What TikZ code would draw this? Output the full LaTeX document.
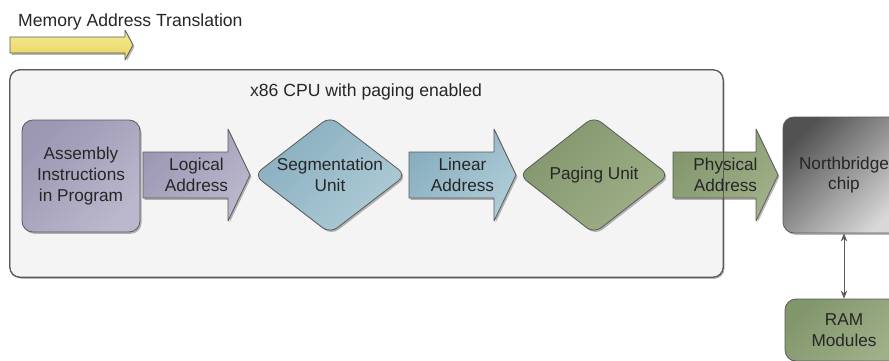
\documentclass[tikz,border=0pt]{standalone}
\usepackage{fontspec}
\setmainfont{Liberation Sans}
\usetikzlibrary{shapes.geometric,shadows,arrows.meta}

\definecolor{edgegray}{HTML}{5A5A5A}
\definecolor{textgray}{HTML}{262626}
\definecolor{cpufill}{HTML}{F4F4F4}
\definecolor{purpledark}{HTML}{9C97B3}
\definecolor{purplelight}{HTML}{BBB7CC}
\definecolor{bluedark}{HTML}{88AEBF}
\definecolor{bluelight}{HTML}{AFCCD7}
\definecolor{greendark}{HTML}{82966C}
\definecolor{greenlight}{HTML}{A0B089}
\definecolor{graydark}{HTML}{525252}
\definecolor{graylight}{HTML}{D8D8D8}
\definecolor{yellowlight}{HTML}{F7EC98}
\definecolor{yellowdark}{HTML}{E6D35C}
\newcommand{\boxfont}{\fontsize{17.2}{20.6}\selectfont}

\tikzset{
	lbl/.style={text=textgray,align=center,font=\boxfont,inner sep=0pt},
	soft shadow/.style={drop shadow={shadow xshift=1.5pt,shadow yshift=-1.8pt,opacity=0.28,fill=black}},
	box/.style={draw=edgegray,line width=0.8pt,rounded corners=11pt,soft shadow,
		text=textgray,align=center,font=\boxfont},
	diamondbox/.style={shape=diamond,draw=edgegray,line width=0.8pt,rounded corners=9pt,
		inner sep=0pt,soft shadow},
	fatarrow/.style={draw=edgegray,line width=0.8pt,line join=round,soft shadow},
	purplefill/.style={top color=purpledark,bottom color=purplelight,shading angle=45},
	bluefill/.style={top color=bluedark,bottom color=bluelight,shading angle=45},
	greenfill/.style={top color=greendark,bottom color=greenlight,shading angle=45},
	grayfill/.style={top color=graydark,bottom color=graylight,shading angle=45},
	yellowfill/.style={top color=yellowlight,bottom color=yellowdark},
	cpubox/.style={draw=edgegray,line width=0.8pt,fill=cpufill,rounded corners=10pt,soft shadow},
	link/.style={draw=edgegray,line width=0.8pt,{Stealth[length=8pt,width=6.5pt]}-{Stealth[length=8pt,width=6.5pt]}}
}

% #1: fill style, #2: x of tail, #3: x of tip, #4: node name, #5: label
\newcommand{\addrarrow}[5]{%
	\draw[#1,fatarrow] (#2,152) -- (#3-22,152) -- (#3-22,129) -- (#3,175)
		-- (#3-22,221) -- (#3-22,198) -- (#2,198) -- cycle;
	\node[lbl] (#4) at ({(#2+#3)/2},175) {#5};
}

\begin{document}
\begin{tikzpicture}[x=1pt,y=-1pt]
	\useasboundingbox (0,0) rectangle (889,360);
	
	% Title and legend arrow
	\node[lbl,font=\fontsize{17.6}{21}\selectfont,anchor=base west] (title) at (18,26) {Memory Address Translation};
	\draw[yellowfill,fatarrow] (10,37) -- (125,37) -- (125,30) -- (133,45)
		-- (125,60) -- (125,53) -- (10,53) -- cycle;
	
	% CPU
	\node[cpubox,minimum width=713pt,minimum height=207pt] (cpu) at (366.5,173.5) {};
	\node[lbl,font=\fontsize{17.6}{21}\selectfont,anchor=base] (cpulabel) at (366,96) {x86 CPU with paging enabled};
	
	\node[box,purplefill,minimum width=118pt,minimum height=112pt] (asm) at (81,176) {Assembly\\Instructions\\in Program};
	\addrarrow{purplefill}{143}{250}{logical}{Logical\\Address}
	
	\node[diamondbox,bluefill,minimum width=152pt,minimum height=117pt] (seg) at (330,175) {};
	\node[lbl] (seglabel) at (seg.center) {Segmentation\\Unit};
	\addrarrow{bluefill}{409}{516}{linear}{Linear\\Address}
	
	\node[diamondbox,greenfill,minimum width=150pt,minimum height=117pt] (paging) at (594,175) {};
	\node[lbl] (paginglabel) at (paging.center) {Paging Unit};
	\addrarrow{greenfill}{673}{778}{physical}{Physical\\Address}
	
	% CPU edge runs over the arrow
	\draw[edgegray,line width=0.8pt,rounded corners=10pt] (cpu.north west) rectangle (cpu.south east);
	
	% Outside the CPU
	\node[box,grayfill,minimum width=122pt,minimum height=116pt] (nb) at (844,175) {Northbridge\\chip};
	\node[box,greenfill,minimum width=118pt,minimum height=62pt] (ram) at (844,330) {RAM\\Modules};
	\draw[link] (nb.south) -- (ram.north);
\end{tikzpicture}
\end{document}
